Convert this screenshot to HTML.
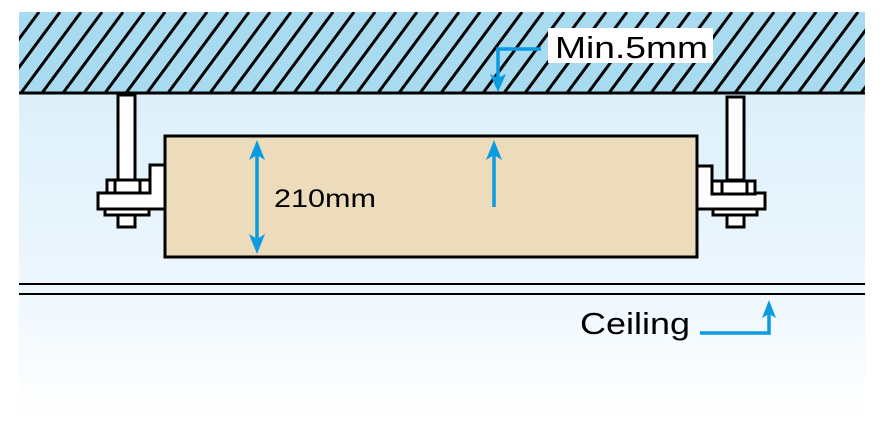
<!DOCTYPE html>
<html><head><style>html,body{margin:0;padding:0;background:#fff;}svg{display:block}</style></head>
<body>
<svg width="881" height="437" viewBox="0 0 881 437" xmlns="http://www.w3.org/2000/svg">
<defs>
<linearGradient id="bg" x1="0" y1="0" x2="0" y2="1">
<stop offset="0" stop-color="#dcf0fa"/>
<stop offset="0.6" stop-color="#eef7fd"/>
<stop offset="1" stop-color="#ffffff"/>
</linearGradient>
<pattern id="h" patternUnits="userSpaceOnUse" width="21" height="81" x="19" y="12">
<line x1="-40" y1="81" x2="20" y2="0" stroke="#000" stroke-width="3"/>
<line x1="-19" y1="81" x2="41" y2="0" stroke="#000" stroke-width="3"/>
<line x1="2" y1="81" x2="62" y2="0" stroke="#000" stroke-width="3"/>
</pattern>
<clipPath id="c"><rect x="19" y="12" width="846" height="81"/></clipPath>
</defs>
<rect x="19" y="93" width="846" height="327" fill="url(#bg)"/>
<rect x="19" y="12" width="846" height="81" fill="#a8daf0"/>
<rect x="19" y="12" width="846" height="81" fill="url(#h)" clip-path="url(#c)"/>
<line x1="19" y1="93" x2="865" y2="93" stroke="#000" stroke-width="3"/>
<g fill="#fff" stroke="#000" stroke-width="3">
<rect x="118" y="95" width="17" height="85"/>
<path d="M150,193 V165 H165 V209 H98 V193 Z"/>
<rect x="107" y="180" width="43" height="13"/>
<line x1="115" y1="180" x2="115" y2="193"/><line x1="140" y1="180" x2="140" y2="193"/>
<rect x="105" y="209" width="44" height="6"/>
<rect x="118" y="215" width="17" height="12"/>
<rect x="727" y="97" width="17" height="83"/>
<path d="M712,193 V166 H697 V209 H765 V193 Z"/>
<rect x="712" y="181" width="43" height="13"/>
<line x1="722" y1="181" x2="722" y2="194"/><line x1="747" y1="181" x2="747" y2="194"/>
<rect x="713" y="209" width="44" height="6"/>
<rect x="727" y="215" width="17" height="12"/>
</g>
<rect x="165" y="136" width="532" height="121" fill="#ecdcbc" stroke="#000" stroke-width="3"/>
<g stroke="#0a9be0" stroke-width="3.5" fill="none">
<line x1="257" y1="150" x2="257" y2="244"/>
<line x1="494" y1="150" x2="494" y2="207"/>
<polyline points="541,49 498,49 498,82"/>
<polyline points="700,333 769,333 769,310"/>
</g>
<g fill="#0a9be0">
<polygon points="257,140 249,160 257,155 265,160"/>
<polygon points="257,254 249,234 257,239 265,234"/>
<polygon points="494,140 486,160 494,155 502,160"/>
<polygon points="498,92 490,74 498,78 506,74"/>
<polygon points="769,300 762,318 769,314 776,318"/>
</g>
<rect x="548" y="28" width="165" height="35" fill="#fff"/>
<text x="555" y="58" font-family="Liberation Sans, sans-serif" font-size="31" textLength="153" lengthAdjust="spacingAndGlyphs" fill="#000">Min.5mm</text>
<text x="274" y="207" font-family="Liberation Sans, sans-serif" font-size="25" textLength="102" lengthAdjust="spacingAndGlyphs" fill="#000">210mm</text>
<line x1="19" y1="284" x2="865" y2="284" stroke="#000" stroke-width="2"/>
<line x1="19" y1="294" x2="865" y2="294" stroke="#000" stroke-width="2"/>
<text x="580" y="334" font-family="Liberation Sans, sans-serif" font-size="31" textLength="110" lengthAdjust="spacingAndGlyphs" fill="#000">Ceiling</text>
</svg>
</body></html>
